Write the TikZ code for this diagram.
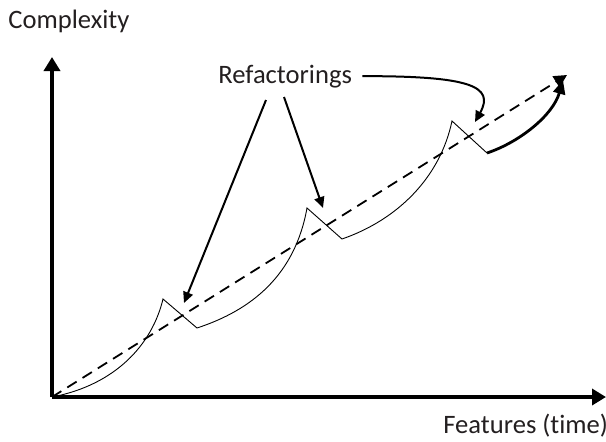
\documentclass[tikz,border=0pt]{standalone}
\usepackage{fontspec}
\setmainfont{Carlito}[Ligatures=NoCommon]
\usetikzlibrary{arrows.meta}
\definecolor{ink}{HTML}{231F20}
\tikzset{
  axis/.style = {line width=2.2pt, -{Triangle[length=7pt, width=8pt]}},
  trend/.style = {line width=0.9pt, dash pattern=on 5.5pt off 3.5pt,
    -{Triangle[length=6.5pt, width=6.5pt]}},
  growth/.style = {line width=0.45pt},% curve of complexity
  pointer/.style = {line width=1pt, -{Triangle[length=5.5pt, width=5pt]}},
  label/.style = {inner sep=0pt, text=ink, font=\fontsize{13.3}{16}\selectfont}
}

\begin{document}
\begin{tikzpicture}[x=0.5pt, y=-0.5pt]
\useasboundingbox (0,0) rectangle (606,441);
% points of the curve
\coordinate (o) at (52,397);
\coordinate (ytop) at (52,57);
\coordinate (xend) at (606,397);
\coordinate (goal) at (567,75);
\coordinate (p1) at (163,299);
\coordinate (q1) at (197,328);
\coordinate (p2) at (307,208);
\coordinate (q2) at (342,239);
\coordinate (p3) at (452,121);
\coordinate (q3) at (487,153);
\coordinate (t1) at (184,303);
\coordinate (t2) at (323,208);
\coordinate (t3) at (475,122);
\coordinate (s1) at (266,100);
\coordinate (s2) at (284,97);

\node [label, anchor=base west] (cplx) at (8,28) {Complexity};
\node [label, anchor=base west] (feat) at (443,433) {Features (time)};
\node [label, anchor=base west] (refac) at (218,83) {Refactorings};

\draw [axis] (o) -- (ytop);
\draw [axis] (o) -- (xend);
\draw [trend] (o) -- (goal);

\draw [growth] (o) .. controls (115,385) and (152,345) .. (p1)
  -- (q1) .. controls (252,310) and (295,275) .. (p2)
  -- (q2) .. controls (397,220) and (440,178) .. (p3)
  -- (q3);
\draw [line width=1.4pt, -{Triangle[length=7pt, width=6pt]}]
  (q3) .. controls (520,142) and (553,115) .. (563,80);

\draw [pointer] (s1) -- (t1);
\draw [pointer] (s2) -- (t2);
\draw [pointer] ([xshift=5pt]refac.east) .. controls (470,76) and (495,86) .. (t3);
\end{tikzpicture}
\end{document}
